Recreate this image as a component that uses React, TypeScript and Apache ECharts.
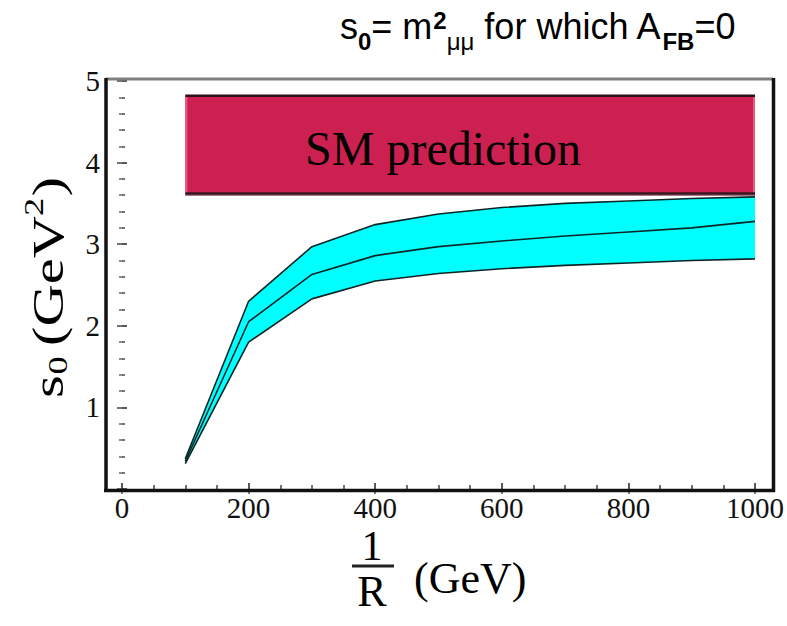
import React, { useEffect, useRef } from "react";
import * as echarts from "echarts";

// 1/R values (GeV) at which the curves are sampled
const xValues = [100, 200, 300, 400, 500, 600, 700, 800, 900, 1000];
// s0 (GeV^2): upper edge, central curve, lower edge of the cyan band
const upperBand = [0.37, 2.3, 2.97, 3.24, 3.37, 3.45, 3.5, 3.53, 3.56, 3.58];
const centralCurve = [0.34, 2.05, 2.63, 2.86, 2.97, 3.04, 3.1, 3.15, 3.2, 3.28];
const lowerBand = [0.31, 1.8, 2.33, 2.55, 2.64, 2.7, 2.74, 2.77, 2.8, 2.82];
// SM prediction band
const smXRange = [100, 1000];
const smLow = 3.62;
const smHigh = 4.82;
// axes
const xMin = 0;
const xMax = 1000;
const xStep = 200;
const yMin = 0;
const yMax = 5;
const yStep = 1;

const SERIF = "'Liberation Serif', 'Times New Roman', serif";
const SANS = "'Liberation Sans', Arial, sans-serif";

function measure(text: string, font: string): number {
  const c = document.createElement("canvas").getContext("2d")!;
  c.font = font;
  return c.measureText(text).width;
}

export default function App() {
  const ref = useRef<HTMLDivElement>(null);
  useEffect(() => {
    const chart = echarts.init(ref.current!, null, { renderer: "svg" });
    const pair = (ys: number[]) => xValues.map((x, i) => [x, ys[i]]);
    const dark = "#0c2626";

    const txt = (
      text: string,
      x: number,
      y: number,
      size: number,
      family: string,
      extra: any = {}
    ) => ({
      type: "text",
      x,
      y,
      silent: true,
      style: {
        text,
        fill: "#000",
        font: `${extra.weight || "normal"} ${size}px ${family}`,
        align: extra.align || "left",
        verticalAlign: "middle",
      },
    });

    // ---- title, flowed run by run ----
    const mainSize = 36;
    const smallSize = 24;
    const mainC = 26;
    const subC = 41;
    const supC = 20;
    const runs: [string, string, number][] = [
      ["s", "main", 0],
      ["0", "subB", 0],
      ["=", "main", 0],
      ["m", "main", 10],
      ["2", "supB", 1],
      ["μμ", "sub", 0],
      ["for which A", "main", 10],
      ["FB", "subB", 0],
      ["=0", "main", 0],
    ];
    let cx = 340;
    const titleEls: any[] = [];
    runs.forEach(([t, kind, gap]) => {
      cx += gap;
      const isMain = kind === "main";
      const size = isMain ? mainSize : smallSize;
      const weight = kind.endsWith("B") ? "bold" : "normal";
      const y = isMain ? mainC : kind.startsWith("sup") ? supC : subC;
      titleEls.push(txt(t, cx, y, size, SANS, { weight }));
      cx += measure(t, `${weight} ${size}px ${SANS}`);
    });

    const option: any = {
      animation: false,
      backgroundColor: "#fff",
      grid: { left: 122, right: 30, top: 81, bottom: 137, containLabel: false },
      xAxis: [
        {
          type: "value",
          position: "bottom",
          min: xMin,
          max: xMax,
          interval: xStep,
          offset: 2,
          axisLine: { show: false },
          axisTick: { show: true, inside: true, length: 6, lineStyle: { color: "#222", width: 1.5 } },
          minorTick: { show: true, splitNumber: 4, length: 4, lineStyle: { color: "#444", width: 1.5 } },
          axisLabel: {
            fontFamily: SERIF,
            fontSize: 29,
            color: "#111",
            margin: 2,
            formatter: (v: number) => String(v),
          },
          splitLine: { show: false },
        },
        {
          type: "value",
          position: "top",
          min: xMin,
          max: xMax,
          interval: xStep,
          offset: 1,
          axisLine: { show: false },
          axisTick: { show: true, inside: true, length: 5, lineStyle: { color: "#555", width: 1.5 } },
          minorTick: { show: true, splitNumber: 4, length: 3, lineStyle: { color: "#777", width: 1.5 } },
          axisLabel: { show: false },
          splitLine: { show: false },
        },
      ],
      yAxis: [
        {
          type: "value",
          position: "left",
          min: yMin,
          max: yMax,
          interval: yStep,
          offset: 16,
          axisLine: { show: false },
          axisTick: { show: true, inside: true, length: 5, lineStyle: { color: "#222", width: 1.5 } },
          minorTick: { show: true, splitNumber: 5, length: 3, lineStyle: { color: "#444", width: 1.5 } },
          axisLabel: { fontFamily: SERIF, fontSize: 29, color: "#111", margin: 6, showMinLabel: false },
          splitLine: { show: false },
        },
        {
          type: "value",
          position: "right",
          min: yMin,
          max: yMax,
          interval: yStep,
          offset: 16,
          axisLine: { show: false },
          axisTick: { show: true, inside: true, length: 5, lineStyle: { color: "#444", width: 1.5 } },
          minorTick: { show: true, splitNumber: 5, length: 3, lineStyle: { color: "#666", width: 1.5 } },
          axisLabel: { show: false },
          splitLine: { show: false },
        },
      ],
      series: [
        {
          name: "SM prediction",
          type: "custom",
          data: [[smXRange[0], smHigh, smXRange[1], smLow]],
          encode: { x: [0, 2], y: [1, 3] },
          z: 3,
          renderItem: (_p: any, api: any) => {
            const tl = api.coord([api.value(0), api.value(1)]);
            const br = api.coord([api.value(2), api.value(3)]);
            const w = br[0] - tl[0];
            const h = br[1] - tl[1];
            return {
              type: "group",
              children: [
                { type: "rect", shape: { x: tl[0], y: tl[1], width: w, height: h }, style: { fill: "#CC2150" } },
                { type: "rect", shape: { x: tl[0], y: tl[1], width: 2, height: h }, style: { fill: "#E85880" } },
                { type: "rect", shape: { x: br[0] - 2, y: tl[1], width: 2, height: h }, style: { fill: "#E85880" } },
                { type: "rect", shape: { x: tl[0], y: br[1], width: w, height: 2.5 }, style: { fill: "#A87884" } },
                { type: "line", shape: { x1: tl[0], y1: tl[1], x2: br[0], y2: tl[1] }, style: { stroke: "#2a1018", lineWidth: 2.5 } },
                { type: "line", shape: { x1: tl[0], y1: br[1], x2: br[0], y2: br[1] }, style: { stroke: "#3a1620", lineWidth: 2.5 } },
              ],
            };
          },
        },
        {
          name: "band",
          type: "custom",
          data: [[xValues[0], upperBand[0]]],
          encode: { x: 0, y: 1 },
          z: 4,
          renderItem: (_p: any, api: any) => {
            const top = xValues.map((x, i) => api.coord([x, upperBand[i]]));
            const bot = xValues.map((x, i) => api.coord([x, lowerBand[i]])).reverse();
            return { type: "polygon", shape: { points: [...top, ...bot] }, style: { fill: "#00FFFF" } };
          },
        },
        {
          name: "upper",
          type: "line",
          symbol: "none",
          data: pair(upperBand),
          lineStyle: { color: dark, width: 1.6 },
          z: 6,
        },
        {
          name: "central",
          type: "line",
          symbol: "none",
          data: pair(centralCurve),
          lineStyle: { color: dark, width: 1.6 },
          z: 6,
        },
        {
          name: "lower",
          type: "line",
          symbol: "none",
          data: pair(lowerBand),
          lineStyle: { color: dark, width: 1.6 },
          z: 6,
        },
      ],
      graphic: [
        // frame
        { type: "line", silent: true, shape: { x1: 106, y1: 79, x2: 773, y2: 79 }, style: { stroke: "#808080", lineWidth: 3 }, z: 10 },
        { type: "line", silent: true, shape: { x1: 106, y1: 78, x2: 106, y2: 492 }, style: { stroke: "#111", lineWidth: 3.5 }, z: 10 },
        { type: "line", silent: true, shape: { x1: 104, y1: 490.5, x2: 775, y2: 490.5 }, style: { stroke: "#111", lineWidth: 3.5 }, z: 10 },
        { type: "line", silent: true, shape: { x1: 773.5, y1: 78, x2: 773.5, y2: 492 }, style: { stroke: "#111", lineWidth: 3.5 }, z: 10 },
        // SM label
        { ...txt("SM prediction", 443, 148, 48, SERIF, { align: "center" }), z: 20 },
        // title
        ...titleEls,
        // y axis title, rotated
        {
          type: "group",
          x: 48,
          y: 398,
          rotation: Math.PI / 2,
          scaleX: 1.3,
          silent: true,
          children: [
            txt("s", 0, 0, 45, SERIF),
            txt("0", 18, 10, 28, SERIF),
            txt("(GeV", 40, 0, 45, SERIF),
            txt("2", 140, -14, 28, SERIF),
            txt(")", 155, 0, 45, SERIF),
          ],
        },
        // x axis title
        txt("1", 372, 546, 42, SERIF, { align: "center" }),
        { type: "line", silent: true, shape: { x1: 352, y1: 566, x2: 394, y2: 566 }, style: { stroke: "#222", lineWidth: 3 } },
        txt("R", 372, 591, 44, SERIF, { align: "center" }),
        txt("(GeV)", 414, 578, 44, SERIF),
      ],
    };
    chart.setOption(option);
    return () => chart.dispose();
  }, []);
  return (
    <div
      ref={ref}
      style={{ position: "fixed", left: 0, top: 0, width: 787, height: 626, background: "#fff" }}
    />
  );
}
